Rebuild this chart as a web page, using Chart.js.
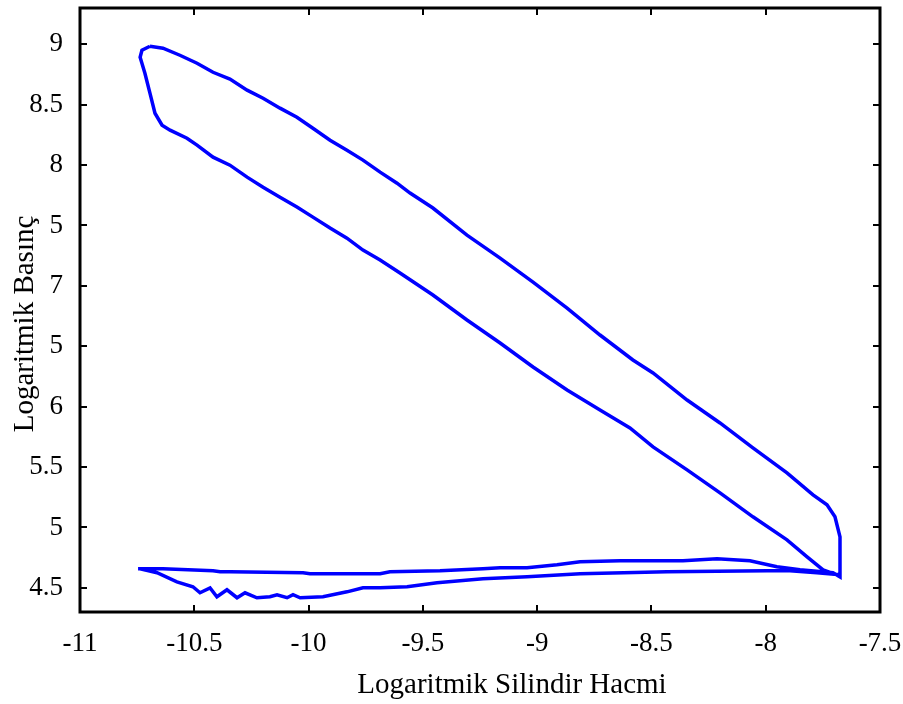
<!DOCTYPE html>
<html lang="tr">
<head>
<meta charset="UTF-8">
<title>Logaritmik P-V</title>
<script src="https://cdn.jsdelivr.net/npm/chart.js"></script>
<style>
  html, body { margin: 0; padding: 0; background: #fff; }
  #wrap { width: 903px; height: 704px; }
</style>
</head>
<body>
<div id="wrap"><canvas id="pv" width="903" height="704"></canvas></div>
<script>
// log V / log P, one closed loop
const expansionX = [-10.694, -10.637, -10.563, -10.488, -10.418, -10.344, -10.269, -10.199, -10.125, -10.051, -9.981, -9.906, -9.832, -9.762, -9.687, -9.613, -9.556, -9.456, -9.307, -9.162, -9.018, -8.869, -8.725, -8.581, -8.493, -8.344, -8.200, -8.056, -7.907, -7.793, -7.732, -7.697, -7.675, -7.675];
const expansionY = [8.983, 8.967, 8.909, 8.843, 8.768, 8.711, 8.620, 8.553, 8.471, 8.396, 8.305, 8.206, 8.123, 8.041, 7.941, 7.850, 7.768, 7.644, 7.420, 7.230, 7.031, 6.816, 6.593, 6.386, 6.279, 6.055, 5.865, 5.658, 5.452, 5.270, 5.187, 5.088, 4.922, 4.591];

const exhaustX = [-7.706, -7.850, -7.951, -8.069, -8.213, -8.362, -8.637, -8.812, -8.913, -9.044, -9.162, -9.237, -9.425, -9.644, -9.687, -9.994, -10.024, -10.344, -10.387, -10.418, -10.637, -10.746];
const exhaustY = [4.625, 4.649, 4.674, 4.724, 4.740, 4.724, 4.724, 4.716, 4.691, 4.666, 4.666, 4.658, 4.641, 4.633, 4.616, 4.616, 4.625, 4.633, 4.633, 4.641, 4.658, 4.658];

const intakeX = [-10.737, -10.663, -10.576, -10.506, -10.475, -10.431, -10.401, -10.357, -10.313, -10.278, -10.226, -10.169, -10.138, -10.094, -10.068, -10.037, -9.937, -9.832, -9.762, -9.687, -9.569, -9.438, -9.237, -9.044, -8.812, -8.432, -7.994, -7.894, -7.776, -7.675];
const intakeY = [4.658, 4.625, 4.550, 4.509, 4.459, 4.500, 4.426, 4.484, 4.418, 4.459, 4.418, 4.426, 4.443, 4.418, 4.443, 4.418, 4.426, 4.467, 4.500, 4.500, 4.509, 4.542, 4.575, 4.591, 4.616, 4.633, 4.641, 4.641, 4.625, 4.608];

const compressionX = [-7.688, -7.749, -7.819, -7.907, -8.056, -8.200, -8.344, -8.493, -8.594, -8.725, -8.869, -9.018, -9.162, -9.307, -9.456, -9.600, -9.687, -9.762, -9.832, -9.906, -9.981, -10.051, -10.125, -10.199, -10.269, -10.344, -10.418, -10.488, -10.532, -10.606, -10.641, -10.672, -10.694, -10.716, -10.737, -10.729, -10.694];
const compressionY = [4.608, 4.649, 4.757, 4.897, 5.088, 5.286, 5.476, 5.667, 5.824, 5.973, 6.138, 6.328, 6.527, 6.717, 6.924, 7.106, 7.213, 7.296, 7.395, 7.478, 7.569, 7.652, 7.734, 7.817, 7.900, 7.999, 8.065, 8.165, 8.222, 8.289, 8.330, 8.429, 8.595, 8.760, 8.892, 8.950, 8.983];

// tick labels exactly as printed in the figure
const xTicks = [-11, -10.5, -10, -9.5, -9, -8.5, -8, -7.5];
const yTicks = [4.5, 5, 5.5, 6, 6.5, 7, 7.5, 8, 8.5, 9];
const yTickLabels = ['4.5', '5', '5.5', '6', '5', '7', '5', '8', '8.5', '9'];

const xTitle = 'Logaritmik Silindir Hacmi';
const yTitle = 'Logaritmik Basınç';

const loopX = [].concat(expansionX, exhaustX, intakeX, compressionX);
const loopY = [].concat(expansionY, exhaustY, intakeY, compressionY);
const points = loopX.map((x, i) => ({ x: x, y: loopY[i] }));

const FONT = "'Liberation Serif', 'Times New Roman', serif";

// box + inward ticks on all four sides, MATLAB style
const boxPlugin = {
  id: 'box',
  afterDraw(chart) {
    const c = chart.ctx, a = chart.chartArea;
    const xs = chart.scales.x, ys = chart.scales.y;
    const len = 7;
    c.save();
    c.strokeStyle = '#000';
    c.lineWidth = 2;
    c.beginPath();
    xTicks.forEach(v => {
      const p = Math.round(xs.getPixelForValue(v));
      c.moveTo(p, a.bottom); c.lineTo(p, a.bottom - len);
      c.moveTo(p, a.top); c.lineTo(p, a.top + len);
    });
    yTicks.forEach(v => {
      const p = Math.round(ys.getPixelForValue(v));
      c.moveTo(a.left, p); c.lineTo(a.left + len, p);
      c.moveTo(a.right, p); c.lineTo(a.right - len, p);
    });
    c.stroke();
    c.lineWidth = 3;
    c.strokeRect(a.left, a.top, a.right - a.left, a.bottom - a.top);

    // axis titles (they sit a bit off-centre in the original figure)
    c.fillStyle = '#000';
    c.font = '29px ' + FONT;
    c.textAlign = 'center';
    c.textBaseline = 'middle';
    c.fillText(xTitle, (a.left + a.right) / 2 + 32, 685);
    c.translate(25, (a.top + a.bottom) / 2 + 14);
    c.rotate(-Math.PI / 2);
    c.fillText(yTitle, 0, 0);
    c.restore();
  }
};

new Chart(document.getElementById('pv'), {
  type: 'scatter',
  data: {
    datasets: [{
      data: points,
      showLine: true,
      borderColor: '#0000ff',
      borderWidth: 3.5,
      pointRadius: 0,
      tension: 0,
      fill: false
    }]
  },
  options: {
    responsive: false,
    animation: false,
    layout: { padding: { left: 0, right: 23, top: 8, bottom: 0 } },
    plugins: { legend: { display: false }, tooltip: { enabled: false } },
    scales: {
      x: {
        type: 'linear',
        min: -11, max: -7.5,
        afterBuildTicks: s => { s.ticks = xTicks.map(v => ({ value: v })); },
        afterFit: s => { s.height = 92; s.paddingLeft = 0; s.paddingRight = 0; },
        grid: { display: false },
        border: { display: false },
        ticks: {
          color: '#000',
          font: { family: FONT, size: 27 },
          padding: 8,
          maxRotation: 0,
          callback: v => String(v)
        }
      },
      y: {
        type: 'linear',
        min: 4.3, max: 9.3,
        afterBuildTicks: s => { s.ticks = yTicks.map(v => ({ value: v })); },
        afterFit: s => { s.width = 80; s.paddingTop = 0; s.paddingBottom = 0; },
        grid: { display: false },
        border: { display: false },
        ticks: {
          color: '#000',
          font: { family: FONT, size: 27 },
          padding: 9,
          callback: v => yTickLabels[yTicks.indexOf(v)]
        }
      }
    }
  },
  plugins: [boxPlugin]
});
</script>
</body>
</html>
